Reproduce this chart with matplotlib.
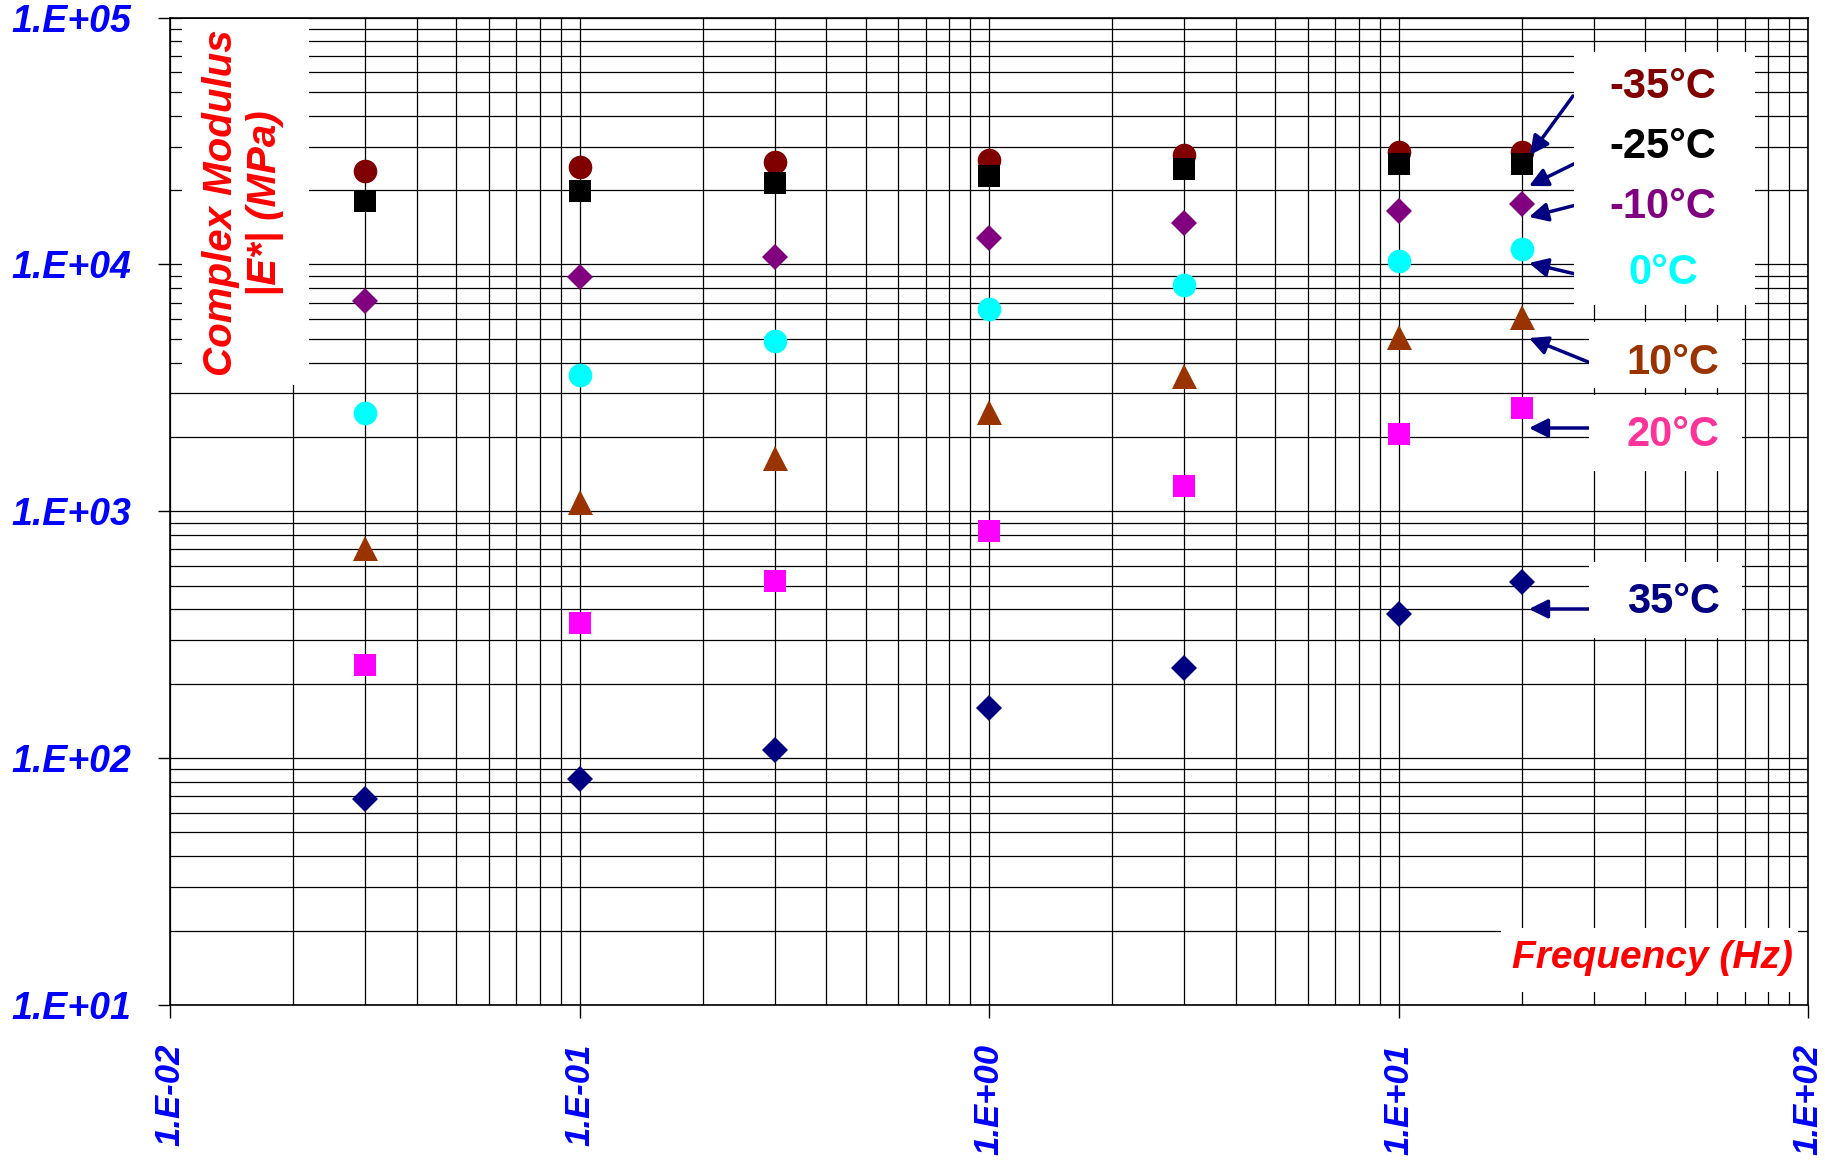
import matplotlib.pyplot as plt
from matplotlib.patches import Rectangle
from matplotlib.ticker import FixedLocator, FixedFormatter, LogLocator, NullFormatter

plt.rcParams['font.family'] = ['Liberation Sans', 'DejaVu Sans']

# data
freq = [0.03, 0.1, 0.3, 1, 3, 10, 20]
e_m35 = [23800, 24800, 25900, 26500, 27700, 28600, 28600]
e_m25 = [18100, 19800, 21300, 22800, 24300, 25400, 25600]
e_m10 = [7100, 8900, 10700, 12800, 14700, 16400, 17500]
e_0 = [2500, 3570, 4900, 6570, 8270, 10300, 11500]
e_10 = [713, 1090, 1650, 2520, 3540, 5060, 6100]
e_20 = [238, 352, 520, 832, 1270, 2050, 2610]
e_35 = [68, 82.6, 108, 159, 232, 384, 515]

temps = ['-35°C', '-25°C', '-10°C', '0°C', '10°C', '20°C', '35°C']
xtick_vals = [0.01, 0.1, 1, 10, 100]
xtick_labels = ['1.E-02', '1.E-01', '1.E+00', '1.E+01', '1.E+02']
ytick_vals = [10, 100, 1000, 10000, 100000]
ytick_labels = ['1.E+01', '1.E+02', '1.E+03', '1.E+04', '1.E+05']

W, H = 1825, 1160
fig = plt.figure(figsize=(W / 100, H / 100), dpi=100)
ax = fig.add_axes([170 / W, 1 - 1005 / H, (1808 - 170) / W, (1005 - 17.5) / H])

series = [
    (e_m35, 'o', '#800000', 17),
    (e_m25, 's', '#000000', 16),
    (e_m10, 'D', '#800080', 13),
    (e_0, 'o', '#00FFFF', 17),
    (e_10, '^', '#993300', 18),
    (e_20, 's', '#FF00FF', 16),
    (e_35, 'D', '#000080', 13),
]
for vals, mk, col, ms in series:
    ax.plot(freq, vals, linestyle='none', marker=mk, color=col, markersize=ms,
            markeredgewidth=0, zorder=3)

ax.set_xscale('log')
ax.set_yscale('log')
ax.set_xlim(0.01, 100)
ax.set_ylim(10, 100000)

ax.xaxis.set_major_locator(FixedLocator(xtick_vals))
ax.xaxis.set_major_formatter(FixedFormatter(xtick_labels))
ax.yaxis.set_major_locator(FixedLocator(ytick_vals))
ax.yaxis.set_major_formatter(FixedFormatter(ytick_labels))
for a in (ax.xaxis, ax.yaxis):
    a.set_minor_locator(LogLocator(base=10, subs=range(2, 10)))
    a.set_minor_formatter(NullFormatter())

ax.tick_params(which='major', direction='out', length=9, width=1, color='black', pad=19)
ax.tick_params(which='minor', length=0)
for lab in ax.get_xticklabels():
    lab.set(rotation=90, fontsize=25, fontweight='bold', fontstyle='italic', color='#0000FF')
for lab in ax.get_yticklabels():
    lab.set(fontsize=27, fontweight='bold', fontstyle='italic', color='#0000FF')

ax.grid(which='both', color='black', linewidth=0.9)
ax.set_axisbelow(True)
for sp in ax.spines.values():
    sp.set_color('black')
    sp.set_linewidth(1.2)


def fx(x):
    return x / W


def fy(y):
    return 1 - y / H


def white_box(x0, y0, x1, y1):
    fig.add_artist(Rectangle((fx(x0), fy(y1)), (x1 - x0) / W, (y1 - y0) / H,
                             transform=fig.transFigure, facecolor='white',
                             edgecolor='none', zorder=5))


# white label boxes
white_box(182, 19, 309, 385)
white_box(1574, 52, 1755, 305)
white_box(1589, 322, 1742, 388)
white_box(1589, 395, 1742, 471)
white_box(1589, 562, 1742, 638)
white_box(1501, 928, 1798, 992)

fig.text(fx(243), fy(203), 'Complex Modulus\n|E*| (MPa)', rotation=90,
         ha='center', va='center', fontsize=29, fontweight='bold',
         fontstyle='italic', color='#FF0000', linespacing=1.2, zorder=6)
fig.text(fx(1793), fy(958), 'Frequency (Hz)', ha='right', va='center',
         fontsize=28, fontweight='bold', fontstyle='italic', color='#FF0000', zorder=6)

# temperature labels with arrows
label_pos = [(1663, 87), (1663, 147), (1663, 207), (1663, 273),
             (1673, 363), (1673, 435), (1673, 602)]
label_cols = ['#800000', '#000000', '#800080', '#00FFFF', '#993300', '#FF3399', '#000080']
arrow_tail = [(1573, 96), (1588, 157), (1588, 202), (1588, 277),
              (1603, 368), (1603, 428), (1605, 609)]
arrow_head = [(1530, 155), (1529, 186), (1529, 217), (1529, 263),
              (1529, 338), (1529, 428), (1529, 609)]

for t, (x, y), c in zip(temps, label_pos, label_cols):
    fig.text(fx(x), fy(y), t, ha='center', va='center', fontsize=30,
             fontweight='bold', color=c, zorder=6)
for (tx, ty), (hx, hy) in zip(arrow_tail, arrow_head):
    ax.annotate('', xy=(fx(hx), fy(hy)), xycoords='figure fraction',
                xytext=(fx(tx), fy(ty)), textcoords='figure fraction',
                arrowprops=dict(arrowstyle='-|>', color='#000080', lw=2.5,
                                mutation_scale=28, shrinkA=0, shrinkB=0),
                zorder=7, annotation_clip=False)

fig.savefig('out.png', dpi=100)
